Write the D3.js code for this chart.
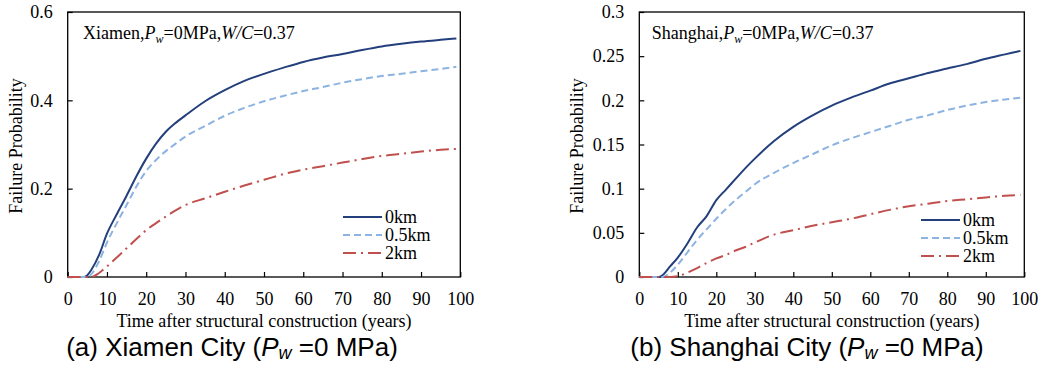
<!DOCTYPE html>
<html>
<head>
<meta charset="utf-8">
<script src="https://cdn.jsdelivr.net/npm/d3@7"></script>
<style>
  body { margin: 0; background: #fff; }
  svg { display: block; }
</style>
</head>
<body>
<div id="chart"></div>
<script>
// Xiamen panel
const xmYears = [0, 4, 5, 6, 8, 10, 12.5, 15, 17.5, 20, 22.5, 25, 27.5, 30, 35, 40, 45, 50, 55, 60, 65, 70, 75, 80, 85, 90, 95, 99];
const xm0km   = [0, 0, 0.004, 0.016, 0.05, 0.098, 0.142, 0.184, 0.228, 0.268, 0.302, 0.329, 0.349, 0.366, 0.398, 0.423, 0.444, 0.46, 0.474, 0.487, 0.497, 0.505, 0.514, 0.522, 0.528, 0.533, 0.537, 0.54];
const xm05km  = [0, 0, 0, 0.006, 0.036, 0.078, 0.122, 0.163, 0.205, 0.24, 0.265, 0.285, 0.302, 0.318, 0.342, 0.365, 0.383, 0.398, 0.41, 0.421, 0.43, 0.44, 0.448, 0.455, 0.46, 0.466, 0.471, 0.476];
const xm2km   = [0, 0, 0, 0, 0.009, 0.024, 0.044, 0.065, 0.086, 0.106, 0.122, 0.137, 0.151, 0.163, 0.178, 0.193, 0.207, 0.22, 0.233, 0.243, 0.251, 0.259, 0.267, 0.274, 0.279, 0.284, 0.288, 0.29];
const xmYTicks = [0, 0.2, 0.4, 0.6];

// Shanghai panel
const shYears = [0, 5, 6, 8, 10, 12.5, 15, 17.5, 20, 22.5, 25, 27.5, 30, 35, 40, 45, 50, 55, 60, 65, 70, 75, 80, 85, 90, 95, 99];
const sh0km   = [0, 0, 0.002, 0.012, 0.022, 0.038, 0.056, 0.069, 0.087, 0.099, 0.111, 0.123, 0.134, 0.154, 0.17, 0.183, 0.194, 0.203, 0.211, 0.219, 0.225, 0.231, 0.236, 0.241, 0.247, 0.252, 0.256];
const sh05km  = [0, 0, 0, 0.005, 0.014, 0.028, 0.042, 0.054, 0.066, 0.077, 0.087, 0.096, 0.105, 0.118, 0.129, 0.139, 0.149, 0.157, 0.164, 0.171, 0.178, 0.183, 0.189, 0.194, 0.198, 0.201, 0.203];
const sh2km   = [0, 0, 0, 0, 0.001, 0.005, 0.01, 0.016, 0.021, 0.025, 0.03, 0.034, 0.039, 0.048, 0.053, 0.058, 0.062, 0.066, 0.071, 0.076, 0.08, 0.083, 0.086, 0.088, 0.09, 0.092, 0.093];
const shYTicks = [0, 0.05, 0.1, 0.15, 0.2, 0.25, 0.3];

const xTicks = [0, 10, 20, 30, 40, 50, 60, 70, 80, 90, 100];
const seriesNames = ['0km', '0.5km', '2km'];

const styles = [
  { color: '#233f7c', dash: null },
  { color: '#8db3e2', dash: '7,4' },
  { color: '#c0504d', dash: '13,5,2,5' }
];

const W = 1043, H = 367;
const svg = d3.select('#chart').append('svg').attr('width', W).attr('height', H);

const serif = '"Liberation Serif", "Times New Roman", serif';

function drawPanel(p) {
  const x = d3.scaleLinear().domain([0, 100]).range([p.left, p.right]);
  const y = d3.scaleLinear().domain([0, p.yMax]).range([p.bottom, p.top]);
  const g = svg.append('g');

  // ticks point inward
  const xa = g.append('g').attr('transform', `translate(0,${p.bottom})`)
    .call(d3.axisBottom(x).tickValues(xTicks).tickSizeInner(-5).tickSizeOuter(0).tickPadding(15));
  const ya = g.append('g').attr('transform', `translate(${p.left},0)`)
    .call(d3.axisLeft(y).tickValues(p.yTicks).tickSizeInner(-5).tickSizeOuter(0).tickPadding(15)
      .tickFormat(d => d3.format('~g')(d)));
  [xa, ya].forEach(a => {
    a.attr('font-family', serif).attr('font-size', 18);
    a.select('.domain').remove();
    a.selectAll('line').attr('stroke', '#000').attr('stroke-width', 1.2);
    a.selectAll('text').attr('fill', '#000').attr('font-family', serif);
  });

  g.append('rect')
    .attr('x', p.left).attr('y', p.top)
    .attr('width', p.right - p.left).attr('height', p.bottom - p.top)
    .attr('fill', 'none').attr('stroke', '#000').attr('stroke-width', 1.3);

  const line = d3.line().x(d => x(d[0])).y(d => y(d[1])).curve(d3.curveMonotoneX);
  p.series.forEach((vals, i) => {
    g.append('path')
      .datum(p.years.map((t, k) => [t, vals[k]]))
      .attr('d', line)
      .attr('fill', 'none')
      .attr('stroke', styles[i].color)
      .attr('stroke-width', 2)
      .attr('stroke-dasharray', styles[i].dash);
  });

  // annotation
  const ann = g.append('text').attr('x', p.annX).attr('y', 39)
    .attr('font-family', serif).attr('font-size', 18).attr('fill', '#000');
  ann.append('tspan').text(p.city + ',');
  ann.append('tspan').attr('font-style', 'italic').text('P');
  ann.append('tspan').attr('font-style', 'italic').attr('font-size', 12).attr('dy', 4).text('w');
  ann.append('tspan').attr('dy', -4).text('=0MPa,');
  ann.append('tspan').attr('font-style', 'italic').text('W/C');
  ann.append('tspan').text('=0.37');

  // legend
  seriesNames.forEach((name, i) => {
    const ly = p.legY + i * 18;
    g.append('line')
      .attr('x1', p.legX).attr('x2', p.legX + 39).attr('y1', ly).attr('y2', ly)
      .attr('stroke', styles[i].color).attr('stroke-width', 2)
      .attr('stroke-dasharray', styles[i].dash);
    g.append('text').attr('x', p.legX + 42).attr('y', ly + 6)
      .attr('font-family', serif).attr('font-size', 18).attr('fill', '#000').text(name);
  });

  // axis titles
  g.append('text')
    .attr('x', (p.left + p.right) / 2).attr('y', 327)
    .attr('text-anchor', 'middle').attr('font-family', serif).attr('font-size', 18)
    .text('Time after structural construction (years)');
  g.append('text')
    .attr('transform', `translate(${p.yTitleX},146) rotate(-90)`)
    .attr('text-anchor', 'middle').attr('font-family', serif).attr('font-size', 18)
    .text('Failure Probability');

  // caption
  const cap = g.append('text').attr('x', p.capX).attr('y', 356)
    .attr('text-anchor', 'middle').attr('font-family', '"Liberation Sans", Arial, sans-serif')
    .attr('font-size', 26).attr('fill', '#000');
  cap.append('tspan').text(p.capLabel + ' ' + p.city + ' City (');
  cap.append('tspan').attr('font-style', 'italic').text('P');
  cap.append('tspan').attr('font-style', 'italic').attr('font-size', 18).attr('dy', 3).text('w');
  cap.append('tspan').attr('dy', -3).text(' =0 MPa)');
}

drawPanel({
  city: 'Xiamen', capLabel: '(a)', left: 67.7, right: 460.3, top: 12, bottom: 277, yMax: 0.6,
  yTicks: xmYTicks, years: xmYears, series: [xm0km, xm05km, xm2km],
  annX: 83, legX: 343, legY: 217, yTitleX: 22, capX: 232
});
drawPanel({
  city: 'Shanghai', capLabel: '(b)', left: 639.3, right: 1024.3, top: 12, bottom: 277, yMax: 0.3,
  yTicks: shYTicks, years: shYears, series: [sh0km, sh05km, sh2km],
  annX: 651.7, legX: 921, legY: 220, yTitleX: 583, capX: 807
});
</script>
</body>
</html>
